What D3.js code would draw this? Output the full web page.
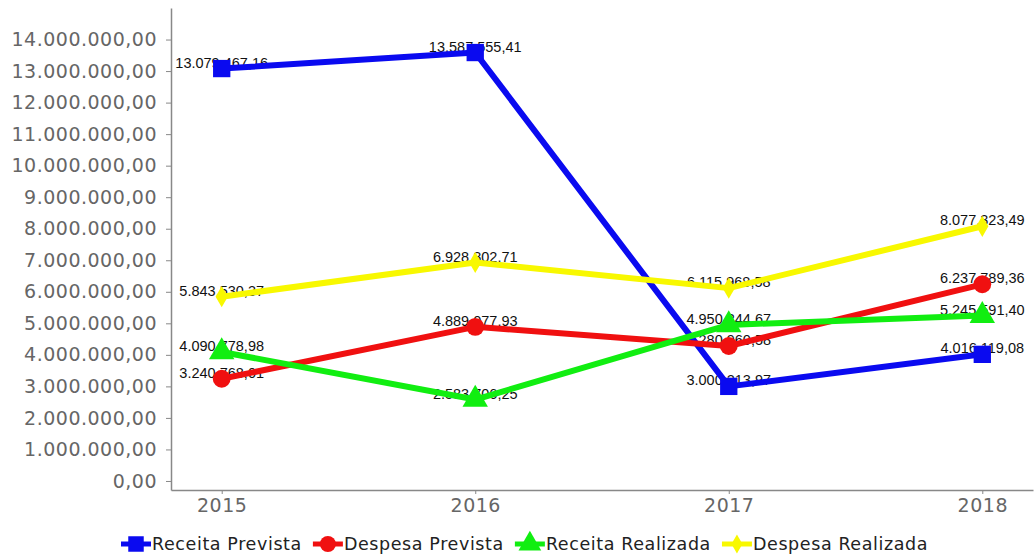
<!DOCTYPE html>
<html>
<head>
<meta charset="utf-8">
<script src="https://cdn.jsdelivr.net/npm/d3@7"></script>
<style>
html,body{margin:0;padding:0;background:#fff;}
svg{display:block;}
</style>
</head>
<body>
<svg id="chart" width="1035" height="558"></svg>
<script>
const categories = ["2015", "2016", "2017", "2018"];
const receitaPrevista = [13079467.16, 13587555.41, 3000213.97, 4016119.08];
const despesaPrevista = [3240768.01, 4889077.93, 4280960.58, 6237789.36];
const receitaRealizada = [4090778.98, 2583706.25, 4950244.67, 5245591.40];
const despesaRealizada = [5843530.37, 6928802.71, 6115968.58, 8077323.49];
const seriesNames = ["Receita Prevista", "Despesa Prevista", "Receita Realizada", "Despesa Realizada"];
const yTicks = [0, 1e6, 2e6, 3e6, 4e6, 5e6, 6e6, 7e6, 8e6, 9e6, 10e6, 11e6, 12e6, 13e6, 14e6];

const colors = ["#0a0af0", "#f01010", "#11ee11", "#f8f800"];
const symbols = [d3.symbolSquare, d3.symbolCircle, d3.symbolTriangle, d3.symbolDiamond];
const symSizes = [300, 250, 280, 130];

const series = [receitaPrevista, despesaPrevista, receitaRealizada, despesaRealizada].map((vals, i) => ({
  name: seriesNames[i], color: colors[i], symbol: symbols[i], size: symSizes[i],
  points: vals.map((v, j) => ({cat: categories[j], v}))
}));

const loc = d3.formatLocale({decimal: ",", thousands: ".", grouping: [3], currency: ["R$", ""]});
const fmt = loc.format(",.2f");

const svg = d3.select("#chart");
const x = d3.scalePoint().domain(categories).range([171, 1033]).padding(0.2);
const y = d3.scaleLinear().domain([-286000, 15000000]).range([490, 8]);

const axisFont = sel => sel.attr("fill", "#666")
  .style("font-family", "'DejaVu Sans', Verdana, sans-serif")
  .style("font-size", "19px").style("letter-spacing", "0.5px");

// Y axis
const yAxis = svg.append("g").attr("transform", "translate(171,0)")
  .call(d3.axisLeft(y).tickValues(yTicks).tickFormat(fmt).tickSize(5).tickSizeOuter(0).tickPadding(9));
yAxis.select(".domain").attr("stroke", "#888").attr("stroke-width", 1.5);
yAxis.selectAll(".tick line").attr("stroke", "#888");
yAxis.selectAll("text").call(axisFont);

// X axis
const xAxis = svg.append("g").attr("transform", "translate(0,490)")
  .call(d3.axisBottom(x).tickSize(4).tickSizeOuter(0).tickPadding(5));
xAxis.select(".domain").attr("stroke", "#888").attr("stroke-width", 1.5);
xAxis.selectAll(".tick line").attr("stroke", "#888");
xAxis.selectAll("text").call(axisFont);

// Labels (under the lines)
const labels = svg.append("g");
series.forEach(s => {
  labels.selectAll(null).data(s.points).enter().append("text")
    .attr("x", d => x(d.cat))
    .attr("y", d => y(d.v) - 1)
    .attr("text-anchor", "middle")
    .style("font-family", "'Liberation Sans', Arial, sans-serif")
    .style("font-size", "14.5px")
    .attr("fill", "#111")
    .text(d => fmt(d.v));
});

// Lines and markers
const line = d3.line().x(d => x(d.cat)).y(d => y(d.v));
series.forEach(s => {
  const g = svg.append("g");
  g.append("path").datum(s.points).attr("d", line)
    .attr("fill", "none").attr("stroke", s.color).attr("stroke-width", 6)
    .attr("stroke-linejoin", "round").attr("stroke-linecap", "round");
  g.selectAll(null).data(s.points).enter().append("path")
    .attr("d", d3.symbol().type(s.symbol).size(s.size))
    .attr("transform", d => `translate(${x(d.cat)},${y(d.v)})`)
    .attr("fill", s.color);
});

// Legend
const legend = svg.append("g").attr("transform", "translate(0,544)");
let lx = 121;
series.forEach(s => {
  const item = legend.append("g").attr("transform", `translate(${lx},0)`);
  item.append("line").attr("x1", 0).attr("x2", 30).attr("y1", 0).attr("y2", 0)
    .attr("stroke", s.color).attr("stroke-width", 5);
  item.append("path").attr("d", d3.symbol().type(s.symbol).size(s.size * 0.8))
    .attr("transform", "translate(15,0)").attr("fill", s.color);
  const t = item.append("text").attr("x", 31).attr("y", 6)
    .style("font-family", "'DejaVu Sans', sans-serif")
    .style("font-size", "17.5px").style("letter-spacing", "0.6px")
    .attr("fill", "#222").text(s.name);
  lx += 31 + t.node().getComputedTextLength() + 11;
});
</script>
</body>
</html>
